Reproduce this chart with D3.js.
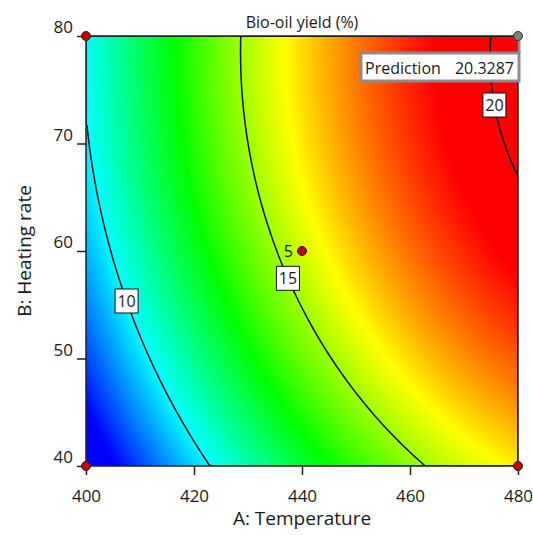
<!DOCTYPE html>
<html>
<head>
<meta charset="utf-8">
<script src="https://d3js.org/d3.v7.min.js"></script>
<style>
    body { margin: 0; background: #fff; }
    text { font-family: "Open Sans", sans-serif; fill: #1a1a1a; }
</style>
</head>
<body>
<div id="chart"></div>
<script>
// axis ticks
var tempTicks = [400, 420, 440, 460, 480];
var rateTicks = [40, 50, 60, 70, 80];

// fitted quadratic model in coded units: [intercept, A, B, AB, A^2, B^2]
var modelCoef = [15.62, 5.16, 2.047, -0.05, -1.341, -1.11];

// contour levels and the heating rate at which each label box sits
var contourLevels = [10, 15, 20];
var contourLabelRate = [55.35, 57.46, 73.58];

// design points (temperature, heating rate) and centre replicates
var designTemp = [400, 400, 480, 440];
var designRate = [40, 80, 40, 60];
var centreReps = 5;

// prediction flag
var predTemp = 480, predRate = 80, predValue = 20.3287;

// colour ramp breakpoints (response value)
var colorStops = [7.0, 10.05, 13.1, 16.15, 19.2];

var width = 533, height = 535;
var margin = { top: 36, right: 15, bottom: 69, left: 86 };
var pw = width - margin.left - margin.right,   // 432
    ph = height - margin.top - margin.bottom;  // 430

function model(A, B) {
    var a = (A - 440) / 40, b = (B - 60) / 20, c = modelCoef;
    return c[0] + c[1] * a + c[2] * b + c[3] * a * b + c[4] * a * a + c[5] * b * b;
}

var x = d3.scaleLinear().domain([400, 480]).range([margin.left, margin.left + pw]);
var y = d3.scaleLinear().domain([40, 80]).range([margin.top + ph, margin.top]);

var color = d3.scaleLinear()
    .domain(colorStops)
    .range(["#0000ff", "#00ffff", "#00ff00", "#ffff00", "#ff0000"])
    .clamp(true);

var svg = d3.select("#chart").append("svg")
    .attr("width", width)
    .attr("height", height);

// heat map drawn on a canvas, then placed in the svg
var canvas = document.createElement("canvas");
canvas.width = pw; canvas.height = ph;
var ctx = canvas.getContext("2d");
var img = ctx.createImageData(pw, ph);
for (var py = 0; py < ph; py++) {
    var B = y.invert(margin.top + py + 0.5);
    for (var px = 0; px < pw; px++) {
        var A = x.invert(margin.left + px + 0.5);
        var c = d3.rgb(color(model(A, B)));
        var k = (py * pw + px) * 4;
        img.data[k] = c.r; img.data[k + 1] = c.g; img.data[k + 2] = c.b; img.data[k + 3] = 255;
    }
}
ctx.putImageData(img, 0, 0);

svg.append("image")
    .attr("x", margin.left).attr("y", margin.top)
    .attr("width", pw).attr("height", ph)
    .attr("preserveAspectRatio", "none")
    .attr("href", canvas.toDataURL());

svg.append("clipPath").attr("id", "plotclip")
    .append("rect")
    .attr("x", margin.left).attr("y", margin.top)
    .attr("width", pw).attr("height", ph);

// contour lines
var N = 216;
var grid = new Array(N * N);
for (var j = 0; j < N; j++) {
    for (var i = 0; i < N; i++) {
        grid[j * N + i] = model(400 + (i + 0.5) / N * 80, 80 - (j + 0.5) / N * 40);
    }
}
var contours = d3.contours().size([N, N]).thresholds(contourLevels)(grid);
var proj = d3.geoTransform({
    point: function (px, py) {
        this.stream.point(margin.left + px / N * pw, margin.top + py / N * ph);
    }
});
svg.append("g")
    .attr("clip-path", "url(#plotclip)")
    .selectAll("path")
    .data(contours)
    .enter().append("path")
    .attr("d", d3.geoPath(proj))
    .attr("fill", "none")
    .attr("stroke", "#111")
    .attr("stroke-width", 1.5);

// plot border
svg.append("rect")
    .attr("x", margin.left).attr("y", margin.top)
    .attr("width", pw).attr("height", ph)
    .attr("fill", "none")
    .attr("stroke", "#222")
    .attr("stroke-width", 1.5);

// contour label boxes
contourLevels.forEach(function (lv, n) {
    var B = contourLabelRate[n], lo = 400, hi = 480;
    for (var it = 0; it < 40; it++) {
        var mid = (lo + hi) / 2;
        if (model(mid, B) < lv) lo = mid; else hi = mid;
    }
    var cx = x((lo + hi) / 2), cy = y(B);
    var g = svg.append("g").attr("transform", "translate(" + cx + "," + cy + ")");
    g.append("rect")
        .attr("x", -11.5).attr("y", -12)
        .attr("width", 23).attr("height", 24)
        .attr("fill", "#fff")
        .attr("stroke", "#111")
        .attr("stroke-width", 1);
    g.append("text")
        .attr("text-anchor", "middle")
        .attr("y", 6)
        .style("font-size", "16px")
        .text(lv);
});

// axes
var xAxis = svg.append("g")
    .attr("transform", "translate(0," + (margin.top + ph) + ")")
    .call(d3.axisBottom(x).tickValues(tempTicks).tickSize(9).tickFormat(d3.format("d")));
xAxis.select(".domain").remove();
xAxis.selectAll("line").attr("stroke", "#222").attr("stroke-width", 1.5);
xAxis.selectAll("text").attr("y", 36).attr("dy", null)
    .style("font-size", "17px").attr("fill", "#1a1a1a");

var yAxis = svg.append("g")
    .attr("transform", "translate(" + margin.left + ",0)")
    .call(d3.axisLeft(y).tickValues(rateTicks).tickSize(9).tickFormat(d3.format("d")));
yAxis.select(".domain").remove();
yAxis.selectAll("line").attr("stroke", "#222").attr("stroke-width", 1.5);
yAxis.selectAll("text").attr("x", -13).attr("y", -3.5).attr("dy", null)
    .style("font-size", "17px").attr("fill", "#1a1a1a");

// design points
svg.append("g").selectAll("circle")
    .data(designTemp)
    .enter().append("circle")
    .attr("cx", function (d) { return x(d); })
    .attr("cy", function (d, i) { return y(designRate[i]); })
    .attr("r", 4.5)
    .attr("fill", "#c00000")
    .attr("stroke", "#222")
    .attr("stroke-width", 1);

svg.append("text")
    .attr("x", x(440) - 9)
    .attr("y", y(60) + 6)
    .attr("text-anchor", "end")
    .style("font-size", "16px")
    .text(centreReps);

// prediction flag
svg.append("line")
    .attr("x1", x(predTemp) + 1).attr("x2", x(predTemp) + 1)
    .attr("y1", y(predRate)).attr("y2", y(predRate) + 17)
    .attr("stroke", "#8c8c8c").attr("stroke-width", 3);
svg.append("circle")
    .attr("cx", x(predTemp)).attr("cy", y(predRate))
    .attr("r", 4.5)
    .attr("fill", "#808080")
    .attr("stroke", "#333")
    .attr("stroke-width", 1);
svg.append("rect")
    .attr("x", 361).attr("y", 53)
    .attr("width", 158).attr("height", 28)
    .attr("fill", "#fff")
    .attr("stroke", "#8c8c8c")
    .attr("stroke-width", 3);
svg.append("text")
    .attr("x", 365).attr("y", 74)
    .style("font-size", "16px")
    .text("Prediction");
svg.append("text")
    .attr("x", 514).attr("y", 74)
    .attr("text-anchor", "end")
    .style("font-size", "16px")
    .text(predValue.toFixed(4));

// titles
svg.append("text")
    .attr("x", margin.left + pw / 2).attr("y", 28)
    .attr("text-anchor", "middle")
    .style("font-size", "16px")
    .text("Bio-oil yield (%)");

svg.append("text")
    .attr("x", margin.left + pw / 2).attr("y", 525)
    .attr("text-anchor", "middle")
    .style("font-size", "19px")
    .text("A: Temperature");

svg.append("text")
    .attr("transform", "translate(31," + (margin.top + ph / 2) + ") rotate(-90)")
    .attr("text-anchor", "middle")
    .style("font-size", "19px")
    .text("B: Heating rate");
</script>
</body>
</html>
